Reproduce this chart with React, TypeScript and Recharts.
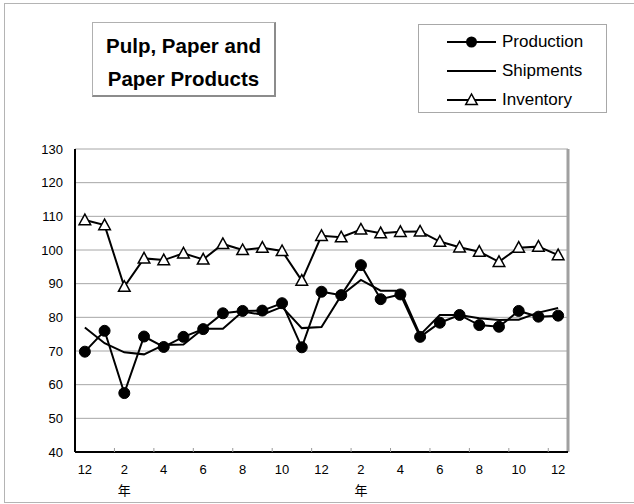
import React from 'react';
import { LineChart, Line, XAxis, YAxis, CartesianGrid, Legend, ReferenceLine } from 'recharts';

const months = ['12', '1', '2', '3', '4', '5', '6', '7', '8', '9', '10', '11', '12', '1', '2', '3', '4', '5', '6', '7', '8', '9', '10', '11', '12'];
const production = [69.8, 76.0, 57.5, 74.3, 71.2, 74.2, 76.5, 81.2, 81.9, 82.0, 84.2, 71.1, 87.6, 86.6, 95.5, 85.4, 86.8, 74.2, 78.4, 80.7, 77.7, 77.2, 81.9, 80.2, 80.5];
const shipments = [77.0, 72.3, 69.6, 69.0, 71.8, 71.9, 76.6, 76.6, 81.7, 80.8, 83.1, 76.8, 77.1, 86.5, 91.1, 87.9, 87.9, 74.8, 80.7, 80.7, 79.7, 79.2, 79.3, 81.4, 82.8];
const inventory = [108.9, 107.4, 89.1, 97.5, 97.0, 99.0, 97.2, 101.8, 100.0, 100.7, 99.7, 90.9, 104.2, 103.8, 106.1, 105.0, 105.4, 105.5, 102.5, 100.8, 99.5, 96.5, 100.7, 101.0, 98.5];
const yTicks = [40, 50, 60, 70, 80, 90, 100, 110, 120, 130];
const yearMarkIndices = [2, 14];
const yearLabel = '年';
const titleLines = ['Pulp, Paper and', 'Paper Products'];
const seriesNames = ['Production', 'Shipments', 'Inventory'];

const FONT = '"Liberation Sans", Arial, sans-serif';

const data = months.map((m, i) => ({
  x: i + 0.5,
  month: m,
  production: production[i],
  shipments: shipments[i],
  inventory: inventory[i],
}));

const xTicks: number[] = [];
for (let i = 0; i < months.length; i++) {
  if (i > 0 && i % 2 === 0) xTicks.push(i);
  if (i % 2 === 0) xTicks.push(i + 0.5);
}

const XTick = (props: any) => {
  const { x, y, payload } = props;
  const v = payload.value;
  if (Number.isInteger(v)) {
    return <line x1={x} x2={x} y1={y} y2={y - 4} stroke="#9a9a9a" strokeWidth={1} />;
  }
  const i = Math.floor(v);
  return (
    <g>
      <text x={x} y={y + 17} textAnchor="middle" dominantBaseline="central" style={{ fontSize: 13 }} fill="#000" fontFamily={FONT}>
        {months[i]}
      </text>
      {yearMarkIndices.includes(i) && (
        <text x={x} y={y + 37} textAnchor="middle" dominantBaseline="central" style={{ fontSize: 13 }} fill="#000" fontFamily='"Noto Sans CJK JP", sans-serif'>
          {yearLabel}
        </text>
      )}
    </g>
  );
};

const YTick = (props: any) => {
  const { x, y, payload } = props;
  return (
    <text x={x} y={y} textAnchor="end" dominantBaseline="central" style={{ fontSize: 13 }} fill="#000" fontFamily={FONT}>
      {payload.value}
    </text>
  );
};

const Triangle = (props: any) => {
  const { cx, cy, index } = props;
  if (cx == null || cy == null) return null;
  return (
    <polygon
      key={`tri-${index}`}
      points={`${cx},${cy - 6} ${cx - 5.8},${cy + 4.6} ${cx + 5.8},${cy + 4.6}`}
      fill="#fff"
      stroke="#000"
      strokeWidth={1.5}
    />
  );
};

const LegendBox = () => {
  const rows = [
    { name: seriesNames[0], marker: 'circle' },
    { name: seriesNames[1], marker: 'none' },
    { name: seriesNames[2], marker: 'triangle' },
  ];
  return (
    <div
      style={{
        width: 187,
        height: 87,
        border: '1px solid #a8a8a8',
        background: '#fff',
        position: 'relative',
        fontFamily: FONT,
      }}
    >
      {rows.map((r, k) => (
        <div key={r.name} style={{ position: 'absolute', left: 0, top: 4 + k * 29, height: 26, width: 187 }}>
          <svg width={50} height={26} style={{ position: 'absolute', left: 28, top: 0 }}>
            <line x1={0} x2={49} y1={13} y2={13} stroke="#000" strokeWidth={2} />
            {r.marker === 'circle' && <circle cx={24.5} cy={13} r={5.5} fill="#000" />}
            {r.marker === 'triangle' && (
              <polygon points="24.5,7 18.7,17.6 30.3,17.6" fill="#fff" stroke="#000" strokeWidth={1.5} />
            )}
          </svg>
          <div style={{ position: 'absolute', left: 83, top: 0, height: 26, lineHeight: '26px', fontSize: 17, color: '#000', whiteSpace: 'nowrap' }}>
            {r.name}
          </div>
        </div>
      ))}
    </div>
  );
};

export default function App() {
  return (
    <div style={{ position: 'absolute', left: 0, top: 0, width: 634, height: 504, overflow: 'hidden', background: '#fff' }}>
      <div style={{ position: 'absolute', left: 4, top: 3, width: 700, height: 498, border: '1px solid #b4b4b4' }} />
      <div style={{ position: 'absolute', left: 0, top: 0 }}>
        <LineChart width={634} height={504} data={data} margin={{ top: 149, right: 66, bottom: 2, left: 0 }}>
          <CartesianGrid xAxisId="main" yAxisId="left" vertical={false} stroke="#a6a6a6" strokeWidth={1} />
          <XAxis
            xAxisId="main"
            dataKey="x"
            type="number"
            domain={[0, 25]}
            ticks={xTicks}
            interval={0}
            tick={<XTick />}
            tickLine={false}
            tickSize={0}
            tickMargin={0}
            height={50}
            axisLine={{ stroke: '#000', strokeWidth: 2 }}
            allowDataOverflow
          />
          <YAxis
            yAxisId="left"
            type="number"
            domain={[40, 130]}
            ticks={yTicks}
            interval={0}
            width={75}
            tickLine={false}
            tickSize={0}
            tickMargin={12}
            axisLine={{ stroke: '#000', strokeWidth: 2 }}
            tick={<YTick />}
            allowDataOverflow
          />
          <ReferenceLine xAxisId="main" yAxisId="left" x={25} stroke="#a0a0a0" strokeWidth={3} />
          <Legend
            layout="vertical"
            align="center"
            verticalAlign="middle"
            content={<LegendBox />}
            wrapperStyle={{ left: 418, top: 24, width: 189, height: 89 }}
          />
          <Line
            xAxisId="main"
            yAxisId="left"
            name={seriesNames[1]}
            dataKey="shipments"
            stroke="#000"
            strokeWidth={2}
            dot={false}
            activeDot={false}
            isAnimationActive={false}
          />
          <Line
            xAxisId="main"
            yAxisId="left"
            name={seriesNames[2]}
            dataKey="inventory"
            stroke="#000"
            strokeWidth={2}
            dot={<Triangle />}
            activeDot={false}
            isAnimationActive={false}
          />
          <Line
            xAxisId="main"
            yAxisId="left"
            name={seriesNames[0]}
            dataKey="production"
            stroke="#000"
            strokeWidth={2}
            dot={{ r: 5.5, fill: '#000', stroke: '#000', strokeWidth: 1 }}
            activeDot={false}
            isAnimationActive={false}
          />
        </LineChart>
      </div>
      <div
        style={{
          position: 'absolute',
          left: 92,
          top: 22,
          width: 181,
          height: 72,
          borderLeft: '1px solid #b0b0b0',
          borderTop: '1px solid #b0b0b0',
          borderRight: '2px solid #8c8c8c',
          borderBottom: '2px solid #8c8c8c',
          background: '#fff',
          fontFamily: FONT,
          fontWeight: 'bold',
          fontSize: 20.5,
          color: '#000',
          textAlign: 'center',
        }}
      >
        <div style={{ position: 'absolute', left: 0, right: 0, top: 7, lineHeight: '32px' }}>{titleLines[0]}</div>
        <div style={{ position: 'absolute', left: 0, right: 0, top: 40, lineHeight: '32px' }}>{titleLines[1]}</div>
      </div>
    </div>
  );
}
